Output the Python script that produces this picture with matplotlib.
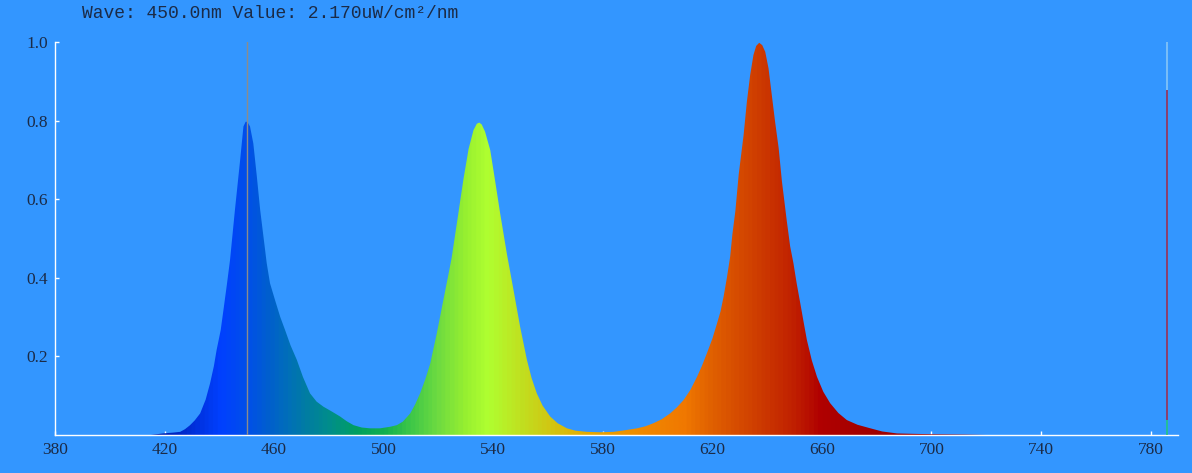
import numpy as np
import matplotlib
matplotlib.use("Agg")
import matplotlib.pyplot as plt
from matplotlib.colors import LinearSegmentedColormap, Normalize
from matplotlib.patches import Polygon

# ---------------- data ----------------
wave = [380, 415, 419.4, 423.0, 425.7, 427.5, 429.3, 431.0, 433.0, 435.0, 436.6, 438.0,
        439.0, 440.5, 441.5, 442.7, 443.9, 445.7, 447.6, 448.8, 449.6, 450.2, 451.2,
        452.4, 453.7, 454.9, 456.1, 457.3, 458.5, 460.3, 462.2, 464.0, 466.0, 468.3,
        470.5, 473.1, 475.5, 478.0, 481.0, 484.1, 486.5, 489.0, 492.0, 495.0, 498.7,
        502.4, 504.8, 507.0, 509.7, 511.5, 513.3, 515.2, 517.0, 519.4, 521.8, 523.4,
        524.8, 527.0, 529.1, 531.0, 532.8, 534.0, 534.9, 535.8, 537.0, 538.9, 540.5,
        542.5, 545.0, 547.4, 549.8, 552.3, 554.0, 555.9, 558.0, 560.8, 563.5, 566.9,
        570.0, 574.2, 579.0, 583.9, 588.0, 592.5, 595.5, 598.5, 601.5, 604.6, 607.0,
        609.5, 612.0, 614.4, 616.2, 618.0, 620.0, 621.7, 623.0, 624.1, 625.3, 626.5,
        627.3, 628.4, 629.6, 631.4, 632.6, 633.8, 635.0, 636.0, 637.1, 638.2, 639.3,
        640.5, 641.7, 642.9, 644.2, 645.4, 647.2, 648.4, 649.6, 650.8, 652.1, 653.3,
        654.5, 656.3, 658.2, 660.5, 663.0, 666.0, 669.1, 673.0, 677.7, 682.0, 687.4,
        693.0, 700.0, 712.0, 720.0, 790.0]
value = [0, 0, 0.004, 0.006, 0.008, 0.015, 0.025, 0.037, 0.055, 0.090, 0.131, 0.175,
         0.216, 0.267, 0.318, 0.380, 0.445, 0.573, 0.700, 0.785, 0.797, 0.797, 0.785,
         0.742, 0.657, 0.573, 0.505, 0.437, 0.386, 0.344, 0.301, 0.267, 0.228, 0.191,
         0.148, 0.106, 0.085, 0.072, 0.060, 0.047, 0.035, 0.025, 0.019, 0.017, 0.017,
         0.021, 0.025, 0.034, 0.055, 0.078, 0.106, 0.142, 0.182, 0.259, 0.344, 0.400,
         0.450, 0.552, 0.650, 0.728, 0.776, 0.792, 0.795, 0.790, 0.772, 0.725, 0.655,
         0.565, 0.460, 0.369, 0.276, 0.191, 0.145, 0.106, 0.075, 0.047, 0.030, 0.017,
         0.011, 0.008, 0.007, 0.008, 0.012, 0.017, 0.022, 0.030, 0.040, 0.055, 0.070,
         0.089, 0.115, 0.148, 0.176, 0.208, 0.245, 0.284, 0.315, 0.352, 0.400, 0.454,
         0.510, 0.570, 0.662, 0.763, 0.848, 0.916, 0.967, 0.990, 0.998, 0.992, 0.975,
         0.933, 0.865, 0.797, 0.730, 0.645, 0.543, 0.480, 0.437, 0.385, 0.335, 0.288,
         0.242, 0.190, 0.148, 0.110, 0.081, 0.056, 0.038, 0.026, 0.017, 0.009, 0.004,
         0.003, 0.002, 0.001, 0, 0]

x_ticks = [380, 420, 460, 500, 540, 580, 620, 660, 700, 740, 780]
y_ticks = [0.2, 0.4, 0.6, 0.8, 1.0]
y_tick_labels = ["0.2", "0.4", "0.6", "0.8", "1.0"]

cursor_wave = 450.0
title_text = "Wave: 450.0nm Value: 2.170uW/cm\u00b2/nm"

marker_wave = 786
marker_levels = [0.0, 0.038, 0.878, 1.0]   # green / red / light-blue segments
marker_colors = ["#22c585", "#9b2f55", "#86c6f7"]

# ---------------- style ----------------
BG = "#3396FF"
TXT = "#1b2b47"
spec_anchors = [(380, "#101880"), (415, "#0020a8"), (425, "#0028c8"), (440, "#0040ff"),
                (450, "#0050e8"), (458, "#0060cc"), (465, "#0070b8"), (472, "#007ea0"),
                (480, "#008e8a"), (490, "#00a060"), (500, "#12b050"), (510, "#40c848"),
                (520, "#70dc40"), (530, "#98f030"), (538, "#b0ff30"), (550, "#c0e020"),
                (560, "#d0c814"), (575, "#e6a800"), (595, "#f08800"), (610, "#f07800"),
                (620, "#e06000"), (635, "#d04000"), (650, "#c02000"), (660, "#b00000"),
                (680, "#a00000"), (790, "#900000")]

fig = plt.figure(figsize=(11.92, 4.73), dpi=100, facecolor=BG)
ax = fig.add_axes([55/1192, 38/473, (1178-55)/1192, (435-42)/473])
ax.set_facecolor(BG)

xmin, xmax = 380, 790
ax.set_xlim(xmin, xmax)
ax.set_ylim(0, 1.0)

# gradient fill clipped to spectrum shape
lo, hi = spec_anchors[0][0], spec_anchors[-1][0]
cmap = LinearSegmentedColormap.from_list(
    "spec", [((w - lo) / (hi - lo), c) for w, c in spec_anchors])
ramp = np.linspace(xmin, xmax, 1200)
rgb = cmap(Normalize(lo, hi)(ramp))[np.newaxis, :, :3]
im = ax.imshow(rgb, extent=[xmin, xmax, 0, 1.0], aspect="auto", origin="lower",
               interpolation="bilinear", zorder=2)
w = np.asarray(wave); v = np.asarray(value)
poly = Polygon(np.column_stack([np.r_[w, w[::-1]], np.r_[v, np.zeros_like(v)]]),
               closed=True, facecolor="none", edgecolor="none",
               transform=ax.transData)
ax.add_patch(poly)
im.set_clip_path(poly)

# cursor line
ax.axvline(cursor_wave, ymin=0, ymax=1, color="#8c8c8c", lw=1.0, zorder=4)

# right marker
for i, c in enumerate(marker_colors):
    ax.plot([marker_wave, marker_wave], [marker_levels[i], marker_levels[i + 1]],
            color=c, lw=1.2, solid_capstyle="butt", zorder=4, clip_on=False)

# spines / ticks
for s in ["top", "right"]:
    ax.spines[s].set_visible(False)
for s in ["left", "bottom"]:
    ax.spines[s].set_color("white")
    ax.spines[s].set_linewidth(1.0)
ax.set_xticks(x_ticks)
ax.set_xticklabels([str(t) for t in x_ticks])
ax.set_yticks(y_ticks)
ax.set_yticklabels(y_tick_labels)
ax.tick_params(direction="in", length=3, width=1, color="white",
               labelcolor=TXT, labelsize=12.5)
ax.tick_params(axis="x", pad=5)
ax.tick_params(axis="y", pad=5)
for lab in ax.get_xticklabels() + ax.get_yticklabels():
    lab.set_family("Liberation Serif")

fig.text(82/1192, 1 - 14/473, title_text, family="Liberation Mono", fontsize=13,
         color=TXT, ha="left", va="center")

fig.savefig("out.png", dpi=100, facecolor=BG)
